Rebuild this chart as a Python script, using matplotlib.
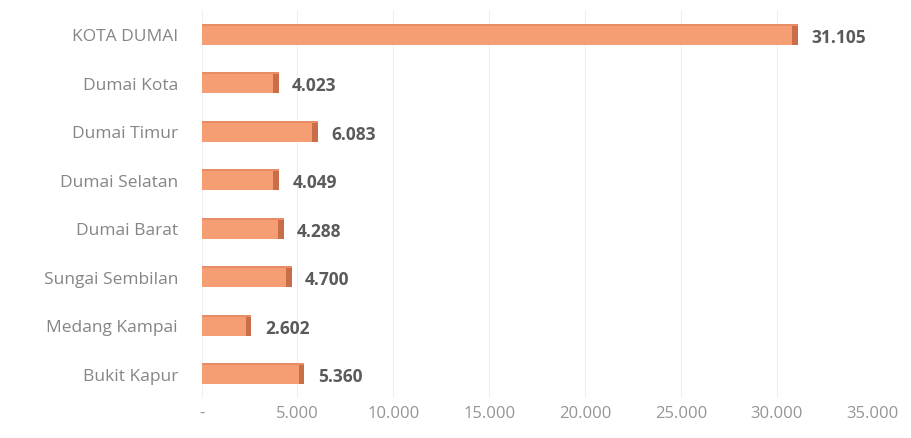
import matplotlib
matplotlib.use("Agg")
import matplotlib.pyplot as plt
from matplotlib.ticker import FuncFormatter

categories = ["KOTA DUMAI", "Dumai Kota", "Dumai Timur", "Dumai Selatan",
              "Dumai Barat", "Sungai Sembilan", "Medang Kampai", "Bukit Kapur"]
values = [31105, 4023, 6083, 4049, 4288, 4700, 2602, 5360]
value_labels = ["31.105", "4.023", "6.083", "4.049", "4.288", "4.700", "2.602", "5.360"]
xticks = [0, 5000, 10000, 15000, 20000, 25000, 30000, 35000]

plt.rcParams['font.family'] = ['Open Sans', 'DejaVu Sans']

fig = plt.figure(figsize=(9.12, 4.39), dpi=100)
ax = fig.add_axes([0.221, 0.091, 0.736, 0.884])

y = list(range(len(categories)))
bar_h = 0.43
depth = 300
ax.barh(y, values, height=bar_h, color="#F69E73", zorder=3)
# darker end cap for pseudo-3D look
ax.barh(y, [depth] * len(values), left=[v - depth for v in values], height=bar_h,
        color="#C96E48", zorder=4)
# thin top bevel
ax.barh([yy - bar_h / 2 + 0.02 for yy in y], values, height=0.04,
        color="#E78C64", zorder=4)

for yy, v, lab in zip(y, values, value_labels):
    ax.text(v + 700, yy + 0.05, lab, va="center", ha="left", fontsize=12.5,
            fontweight="bold", color="#5A5A5A")

ax.set_xlim(0, 35000)
ax.set_ylim(len(categories) - 0.5, -0.5)
ax.set_yticks(y)
ax.set_yticklabels(categories, fontsize=12.5, color="#858585")
ax.set_xticks(xticks)
ax.xaxis.set_major_formatter(FuncFormatter(
    lambda v, p: "-" if v == 0 else f"{int(v):,}".replace(",", ".")))
ax.tick_params(axis="x", labelsize=12, labelcolor="#959595", length=0, pad=5)
ax.tick_params(axis="y", length=0, pad=17)
ax.grid(axis="x", color="#F0F0F0", linewidth=0.8, zorder=0)
for s in ax.spines.values():
    s.set_visible(False)

fig.savefig("out.png", dpi=100)
